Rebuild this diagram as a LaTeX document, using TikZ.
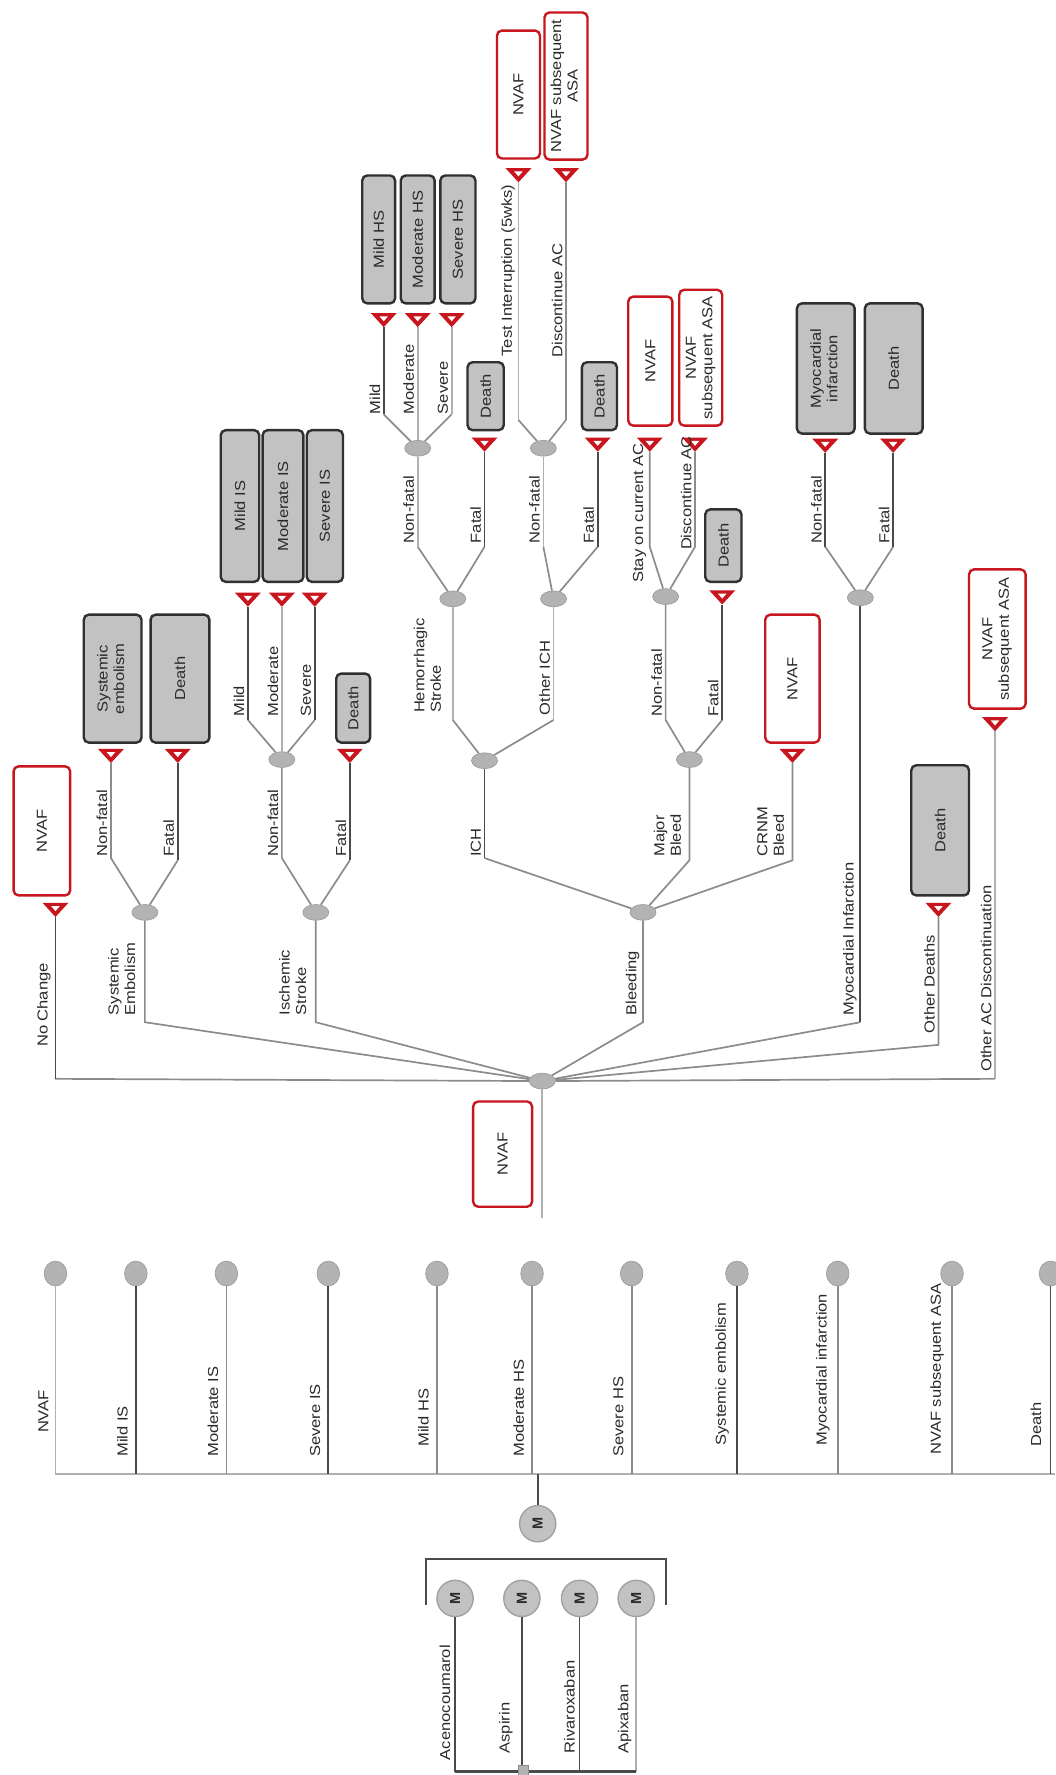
\documentclass[tikz,border=0pt]{standalone}
\usepackage{fontspec}
\setmainfont{Liberation Sans}
\usetikzlibrary{shapes.geometric}
\definecolor{tred}{HTML}{C8161E}
\definecolor{gfill}{HTML}{C2C2C2}
\definecolor{gdraw}{HTML}{303030}
\definecolor{cnode}{HTML}{B3B3B3}
\definecolor{ldark}{HTML}{4A4A4A}
\definecolor{lmid}{HTML}{8C8C8C}
\definecolor{llight}{HTML}{B0B0B0}
\definecolor{txt}{HTML}{2A2A2A}
\newcommand\stx[1]{\scalebox{1.14}[1]{#1}}
\newcommand\twol[2]{\begin{tabular}{@{}l@{}}#1\\#2\end{tabular}}
\newcommand\twoc[2]{\begin{tabular}{@{}c@{}}#1\\#2\end{tabular}}
\newcommand\lf{\fontsize{14.5}{16.5}\selectfont}
\def\UU{1.132pt}
\tikzset{
  gbox/.style={draw=gdraw, fill=gfill, line width=2.4pt, rounded corners=5pt, inner sep=0pt, text=txt},
  rbox/.style={draw=tred, fill=white, line width=2.4pt, rounded corners=5pt, inner sep=0pt, text=txt},
  chn/.style={ellipse, fill=cnode, draw=cnode!85!black, line width=0.6pt, minimum width=23*\UU, minimum height=14*\UU, inner sep=0pt},
  mst/.style={ellipse, fill=cnode, draw=cnode!85!black, line width=0.6pt, minimum width=20*\UU, minimum height=22*\UU, inner sep=0pt},
  mnode/.style={circle, fill=cnode!80, draw=cnode!90!black, line width=1.4pt, minimum size=32*\UU, inner sep=0pt, font=\lf\bfseries, text=txt},
  lab/.style={rotate=90, anchor=south west, inner sep=0pt, text=txt},
  br/.style={draw=lmid, line width=1.7pt},
  brd/.style={draw=ldark, line width=1.7pt},
  brl/.style={draw=llight, line width=1.7pt},
  termtri/.pic={\fill[tred] (-11.5,-12.5) -- (11.5,-12.5) -- (0,0) -- cycle;
                \fill[white] (-3.8,-9.6) -- (3.8,-9.6) -- (0,-5.2) -- cycle;}
}
\begin{document}
\begin{tikzpicture}[x=1.132pt, y=-1.132pt, font=\lf]
\useasboundingbox (0,0) rectangle (932,1568);
\fill[white] (0,0) rectangle (932,1568);

% ---------------- chance nodes ----------------
\node[chn] (r0) at (479,955) {};
\node[chn] (nse) at (128,806) {};
\node[chn] (nis) at (279,806) {};
\node[chn] (nbl) at (568,806) {};
\node[chn] (nsev) at (249,671) {};
\node[chn] (nich) at (428,672) {};
\node[chn] (nmb) at (609,671) {};
\node[chn] (nhs) at (400,529) {};
\node[chn] (noi) at (489,529) {};
\node[chn] (nsd) at (588,527) {};
\node[chn] (nmi) at (760,528) {};
\node[chn] (nhsev) at (369,396) {};
\node[chn] (ndisc) at (480,396) {};

% ---------------- bends ----------------
\coordinate (knc) at (49,953);
\coordinate (kse) at (128,903);
\coordinate (kis) at (279,903);
\coordinate (kbl) at (568,903);
\coordinate (kmi) at (760,903);
\coordinate (kod) at (829,923);
\coordinate (kac) at (879,953);
\coordinate (kse1) at (98,758);
\coordinate (kse2) at (157,760);
\coordinate (kis1) at (249,758);
\coordinate (kis2) at (309,760);
\coordinate (kich) at (428,758);
\coordinate (kmb) at (609,760);
\coordinate (kcr) at (700,760);
\coordinate (ksev1) at (219,636);
\coordinate (ksev3) at (278,636);
\coordinate (khs) at (400,636);
\coordinate (koi) at (489,636);
\coordinate (kmb1) at (588,636);
\coordinate (kmb2) at (638,636);
\coordinate (khs1) at (369,483);
\coordinate (khs2) at (428,483);
\coordinate (koi1) at (480,483);
\coordinate (koi2) at (528,483);
\coordinate (ksd1) at (574,483);
\coordinate (ksd2) at (614,483);
\coordinate (kmi1) at (729,483);
\coordinate (kmi2) at (789,483);
\coordinate (khsv1) at (339,366);
\coordinate (khsv3) at (399,366);
\coordinate (kd1) at (458,371);
\coordinate (kd2) at (500,371);

% ---------------- terminal apexes ----------------
\coordinate (tnc) at (49,810);
\coordinate (tse1) at (98,674);
\coordinate (tse2) at (157,674);
\coordinate (tsev1) at (219,536);
\coordinate (tsev2) at (249,536);
\coordinate (tsev3) at (278,536);
\coordinate (tis2) at (309,674);
\coordinate (thsv1) at (339,289);
\coordinate (thsv2) at (369,289);
\coordinate (thsv3) at (399,289);
\coordinate (ths2) at (428,399);
\coordinate (td1) at (458,161);
\coordinate (td2) at (500,161);
\coordinate (toi2) at (528,399);
\coordinate (tsd1) at (574,399);
\coordinate (tsd2) at (614,399);
\coordinate (tmb2) at (638,534);
\coordinate (tcr) at (700,674);
\coordinate (tmi1) at (729,400);
\coordinate (tmi2) at (789,400);
\coordinate (tod) at (829,810);
\coordinate (tac) at (879,646);
\coordinate (rin) at (479,1076);

% ---------------- connectors ----------------
\draw[brl] (r0) -- (rin);
\draw[br] (r0) -- (knc); \draw[brd] (knc) -- (tnc);
\draw[br] (r0) -- (kse) -- (nse);
\draw[br] (r0) -- (kis) -- (nis);
\draw[br] (r0) -- (kbl) -- (nbl);
\draw[br] (r0) -- (kmi); \draw[brd] (kmi) -- (nmi);
\draw[br] (r0) -- (kod) -- (tod);
\draw[br] (r0) -- (kac); \draw[brl] (kac) -- (tac);

\draw[br] (nse) -- (kse1) -- (tse1);
\draw[br] (nse) -- (kse2); \draw[brd] (kse2) -- (tse2);
\draw[br] (nis) -- (kis1) -- (nsev);
\draw[br] (nis) -- (kis2); \draw[brd] (kis2) -- (tis2);
\draw[br] (nsev) -- (ksev1); \draw[brd] (ksev1) -- (tsev1);
\draw[brl] (nsev) -- (tsev2);
\draw[br] (nsev) -- (ksev3); \draw[brd] (ksev3) -- (tsev3);

\draw[br] (nbl) -- (kich); \draw[brd] (kich) -- (nich);
\draw[br] (nbl) -- (kmb) -- (nmb);
\draw[br] (nbl) -- (kcr) -- (tcr);
\draw[br] (nich) -- (khs); \draw[brl] (khs) -- (nhs);
\draw[br] (nich) -- (koi); \draw[brl] (koi) -- (noi);
\draw[br] (nhs) -- (khs1); \draw[brl] (khs1) -- (nhsev);
\draw[br] (nhs) -- (khs2); \draw[brd] (khs2) -- (ths2);
\draw[br] (nhsev) -- (khsv1); \draw[brd] (khsv1) -- (thsv1);
\draw[brl] (nhsev) -- (thsv2);
\draw[br] (nhsev) -- (khsv3); \draw[brl] (khsv3) -- (thsv3);
\draw[br] (noi) -- (koi1); \draw[brl] (koi1) -- (ndisc);
\draw[br] (noi) -- (koi2); \draw[brd] (koi2) -- (toi2);
\draw[br] (ndisc) -- (kd1); \draw[brl] (kd1) -- (td1);
\draw[br] (ndisc) -- (kd2); \draw[br] (kd2) -- (td2);
\draw[br] (nmb) -- (kmb1) -- (nsd);
\draw[br] (nmb) -- (kmb2); \draw[brd] (kmb2) -- (tmb2);
\draw[br] (nsd) -- (ksd1) -- (tsd1);
\draw[br] (nsd) -- (ksd2) -- (tsd2);
\draw[br] (nmi) -- (kmi1); \draw[brd] (kmi1) -- (tmi1);
\draw[br] (nmi) -- (kmi2); \draw[brd] (kmi2) -- (tmi2);

% ---------------- terminal markers ----------------
\foreach \t in {tnc,tse1,tse2,tsev1,tsev2,tsev3,tis2,thsv1,thsv2,thsv3,ths2,td1,td2,toi2,tsd1,tsd2,tmb2,tcr,tmi1,tmi2,tod,tac}
  \pic at (\t) {termtri};

% ---------------- boxes ----------------
\node[rbox, minimum width=52*\UU, minimum height=93*\UU] (broot) at (444,1019.5) {\rotatebox{90}{\stx{NVAF}}};
\node[rbox, minimum width=50*\UU, minimum height=114*\UU] (bnc) at (37,734) {\rotatebox{90}{\stx{NVAF}}};
\node[gbox, minimum width=51*\UU, minimum height=113*\UU] (bse1) at (99.5,599.5) {\rotatebox{90}{\stx{\twoc{Systemic}{embolism}}}};
\node[gbox, minimum width=52*\UU, minimum height=113*\UU] (bse2) at (159,599.5) {\rotatebox{90}{\stx{Death}}};
\node[gbox, minimum width=34*\UU, minimum height=134*\UU] (bsev1) at (212,447) {\rotatebox{90}{\stx{Mild IS}}};
\node[gbox, minimum width=36*\UU, minimum height=134*\UU] (bsev2) at (250,447) {\rotatebox{90}{\stx{Moderate IS}}};
\node[gbox, minimum width=32*\UU, minimum height=134*\UU] (bsev3) at (287,447) {\rotatebox{90}{\stx{Severe IS}}};
\node[gbox, minimum width=30*\UU, minimum height=61*\UU] (bis2) at (312,625.5) {\rotatebox{90}{\stx{Death}}};
\node[gbox, minimum width=29*\UU, minimum height=113*\UU] (bhsv1) at (334.5,211.5) {\rotatebox{90}{\stx{Mild HS}}};
\node[gbox, minimum width=30*\UU, minimum height=113*\UU] (bhsv2) at (369,211.5) {\rotatebox{90}{\stx{Moderate HS}}};
\node[gbox, minimum width=31*\UU, minimum height=113*\UU] (bhsv3) at (404.5,211.5) {\rotatebox{90}{\stx{Severe HS}}};
\node[gbox, minimum width=32*\UU, minimum height=60*\UU] (bhs2) at (429,350) {\rotatebox{90}{\stx{Death}}};
\node[rbox, minimum width=38*\UU, minimum height=113*\UU] (bd1) at (458,83.5) {\rotatebox{90}{\stx{NVAF}}};
\node[rbox, minimum width=38*\UU, minimum height=130*\UU] (bd2) at (500,76) {\rotatebox{90}{\stx{\twoc{NVAF subsequent}{ASA}}}};
\node[gbox, minimum width=31*\UU, minimum height=60*\UU] (boi2) at (529.5,350) {\rotatebox{90}{\stx{Death}}};
\node[rbox, minimum width=39*\UU, minimum height=114*\UU] (bsd1) at (574.5,319) {\rotatebox{90}{\stx{NVAF}}};
\node[rbox, minimum width=38*\UU, minimum height=120*\UU] (bsd2) at (619,316) {\rotatebox{90}{\stx{\twoc{NVAF}{subsequent ASA}}}};
\node[gbox, minimum width=32*\UU, minimum height=64*\UU] (bmb2) at (639,482) {\rotatebox{90}{\stx{Death}}};
\node[rbox, minimum width=48*\UU, minimum height=113*\UU] (bcr) at (700,599.5) {\rotatebox{90}{\stx{NVAF}}};
\node[gbox, minimum width=51*\UU, minimum height=115*\UU] (bmi1) at (729.5,325.5) {\rotatebox{90}{\stx{\twoc{Myocardial}{infarction}}}};
\node[gbox, minimum width=51*\UU, minimum height=115*\UU] (bmi2) at (789.5,325.5) {\rotatebox{90}{\stx{Death}}};
\node[gbox, minimum width=51*\UU, minimum height=115*\UU] (bod) at (830.5,733.5) {\rotatebox{90}{\stx{Death}}};
\node[rbox, minimum width=50*\UU, minimum height=123*\UU] (bac) at (881,564.5) {\rotatebox{90}{\stx{\twoc{NVAF}{subsequent ASA}}}};

% ---------------- branch labels ----------------
\node[lab] (lnc) at (45,925) {\stx{No Change}};
\node[lab] (lse) at (124,897) {\stx{\twol{Systemic}{Embolism}}};
\node[lab] (lis) at (275,897) {\stx{\twol{Ischemic}{Stroke}}};
\node[lab] (lbl) at (565,897) {\stx{Bleeding}};
\node[lab] (lmi) at (757,897) {\stx{Myocardial Infarction}};
\node[lab] (lod) at (826,913) {\stx{Other Deaths}};
\node[lab] (lac) at (876,947) {\stx{Other AC Discontinuation}};

\node[lab] (lse1) at (95,757) {\stx{Non-fatal}};
\node[lab] (lse2) at (154,757) {\stx{Fatal}};
\node[lab] (lis1) at (246,757) {\stx{Non-fatal}};
\node[lab] (lis2) at (306,757) {\stx{Fatal}};
\node[lab] (lich) at (425,757) {\stx{ICH}};
\node[lab] (lmb) at (606,757) {\stx{\twol{Major}{Bleed}}};
\node[lab] (lcr) at (697,757) {\stx{\twol{CRNM}{Bleed}}};

\node[lab] (lsev1) at (216,633) {\stx{Mild}};
\node[lab] (lsev2) at (246,633) {\stx{Moderate}};
\node[lab] (lsev3) at (275,633) {\stx{Severe}};
\node[lab] (lhs) at (394,630) {\stx{\twol{Hemorrhagic}{Stroke}}};
\node[lab] (loi) at (486,632) {\stx{Other ICH}};
\node[lab] (lmb1) at (585,633) {\stx{Non-fatal}};
\node[lab] (lmb2) at (635,633) {\stx{Fatal}};

\node[lab] (lhs1) at (366,480) {\stx{Non-fatal}};
\node[lab] (lhs2) at (425,480) {\stx{Fatal}};
\node[lab] (loi1) at (477,480) {\stx{Non-fatal}};
\node[lab] (loi2) at (525,480) {\stx{Fatal}};
\node[lab] (lsd1) at (571,515) {\stx{Stay on current AC}};
\node[lab] (lsd2) at (611,486) {\stx{Discontinue AC}};
\node[lab] (lmi1) at (726,480) {\stx{Non-fatal}};
\node[lab] (lmi2) at (786,480) {\stx{Fatal}};

\node[lab] (lhsv1) at (336,366) {\stx{Mild}};
\node[lab] (lhsv2) at (366,366) {\stx{Moderate}};
\node[lab] (lhsv3) at (396,366) {\stx{Severe}};
\node[lab] (ld1) at (455,315) {\stx{Test Interruption (5wks)}};
\node[lab] (ld2) at (497,316) {\stx{Discontinue AC}};

% ---------------- Markov states ----------------
\coordinate (bR) at (932,1302);
\foreach \i/\x in {1/49,2/120,3/200,4/290,5/386,6/470,7/558,8/651,9/740,10/841,11/928}{
  \node[mst] (s\i) at (\x,1125) {};
  \coordinate (b\i) at (\x,1302);
}
\draw[draw=llight, line width=2.4pt] (b1) -- (bR);
\draw[brl] (s1) -- (b1);
\draw[brd] (s2) -- (b2);
\draw[br] (s3) -- (b3);
\draw[brd] (s4) -- (b4);
\draw[br] (s5) -- (b5);
\draw[br] (s6) -- (b6);
\draw[br] (s7) -- (b7);
\draw[brd] (s8) -- (b8);
\draw[br] (s9) -- (b9);
\draw[br] (s10) -- (b10);
\draw[brd] (s11) -- (b11);

\node[lab] (ms1) at (43,1266) {\stx{NVAF}};
\node[lab] (ms2) at (113,1287) {\stx{Mild IS}};
\node[lab] (ms3) at (193,1287) {\stx{Moderate IS}};
\node[lab] (ms4) at (283,1287) {\stx{Severe IS}};
\node[lab] (ms5) at (379,1278) {\stx{Mild HS}};
\node[lab] (ms6) at (463,1287) {\stx{Moderate HS}};
\node[lab] (ms7) at (551,1287) {\stx{Severe HS}};
\node[lab] (ms8) at (644,1277) {\stx{Systemic embolism}};
\node[lab] (ms9) at (733,1277) {\stx{Myocardial infarction}};
\node[lab] (ms10) at (834,1285) {\stx{NVAF subsequent ASA}};
\node[lab] (ms11) at (920,1278) {\stx{Death}};

\node[mnode] (m0) at (475,1346) {\rotatebox{90}{M}};
\coordinate (bm) at (475,1302);
\draw[brd] (m0) -- (bm);

% ---------------- strategies ----------------
\coordinate (q1) at (376,1418);
\coordinate (q2) at (376,1377);
\coordinate (q3) at (588,1377);
\coordinate (q4) at (588,1418);
\draw[draw=ldark, line width=1.8pt] (q1) -- (q2) -- (q3) -- (q4);
\foreach \i/\x in {1/402,2/461,3/512,4/562}{
  \node[mnode] (m\i) at (\x,1412) {\rotatebox{90}{M}};
  \coordinate (e\i) at (\x,1565);
}
\draw[brd] (m1) -- (e1);
\draw[brd] (m2) -- (e2);
\draw[brd] (m3) -- (e3);
\draw[brl] (m4) -- (e4);
\draw[draw=ldark, line width=2.6pt] (e1) -- (e4);
\node[draw=lmid, fill=cnode, line width=0.8pt, minimum size=9*\UU, inner sep=0pt] (dsq) at (462,1564) {};

\node[lab] (st1) at (398,1555) {\stx{Acenocoumarol}};
\node[lab] (st2) at (453,1549) {\stx{Aspirin}};
\node[lab] (st3) at (508,1549) {\stx{Rivaroxaban}};
\node[lab] (st4) at (558,1549) {\stx{Apixaban}};
\end{tikzpicture}
\end{document}
